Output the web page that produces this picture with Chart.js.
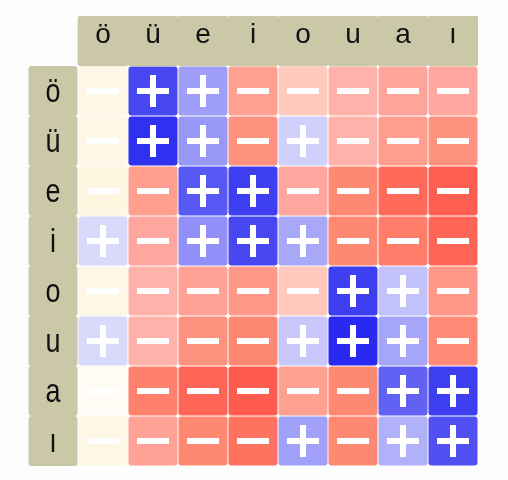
<!DOCTYPE html>
<html>
<head>
<meta charset="utf-8">
<script src="https://cdn.jsdelivr.net/npm/chart.js@4.4.0/dist/chart.umd.min.js"></script>
<style>
  html, body { margin: 0; padding: 0; background: #fdfdfd; }
</style>
</head>
<body>
<canvas id="myChart" width="508" height="480"></canvas>
<script>
// vowels, same order on both axes
const letters = ['ö', 'ü', 'e', 'i', 'o', 'u', 'a', 'ı'];

// one row per vowel, values in [-1, 1]
const rowOe = [-0.09, 0.82, 0.43, -0.43, -0.25, -0.33, -0.40, -0.38];
const rowUe = [-0.09, 0.93, 0.46, -0.53, 0.21, -0.33, -0.45, -0.53];
const rowE = [-0.10, -0.45, 0.75, 0.86, -0.38, -0.59, -0.78, -0.86];
const rowI = [0.17, -0.38, 0.50, 0.82, 0.39, -0.59, -0.66, -0.81];
const rowO = [-0.09, -0.33, -0.42, -0.48, -0.25, 0.86, 0.28, -0.48];
const rowU = [0.17, -0.33, -0.53, -0.59, 0.25, 0.96, 0.40, -0.57];
const rowA = [-0.03, -0.64, -0.81, -0.88, -0.43, -0.59, 0.71, 0.86];
const rowDotlessI = [-0.09, -0.42, -0.59, -0.73, 0.42, -0.59, 0.35, 0.78];

const rows = [rowOe, rowUe, rowE, rowI, rowO, rowU, rowA, rowDotlessI];

const headerColor = '#cbc8a8';

const blueStops = [[0, [255, 255, 255]], [1, [32, 32, 240]]];
const redStops = [
    [0, [255, 255, 255]],
    [0.1, [255, 246, 226]],
    [0.35, [255, 172, 164]],
    [0.6, [255, 134, 112]],
    [1, [255, 72, 64]]
];

function cellColor(v) {
    let stops = v >= 0 ? blueStops : redStops;
    let a = Math.min(Math.abs(v), 1);
    for (let i = 1; i < stops.length; i++) {
        if (a <= stops[i][0]) {
            let t = (a - stops[i - 1][0]) / (stops[i][0] - stops[i - 1][0]);
            let c = stops[i - 1][1].map((c0, k) => Math.round(c0 + (stops[i][1][k] - c0) * t));
            return 'rgb(' + c.join(',') + ')';
        }
    }
    return 'rgb(' + stops[stops.length - 1][1].join(',') + ')';
}

const labels = ['', ...letters];

let datasets = [{
    data: labels.map((l, j) => j === 0 ? null : [-1, 0]),
    backgroundColor: headerColor,
    barPercentage: 1
}];

rows.forEach((row, r) => {
    datasets.push({
        data: [[r, r + 1], ...row.map(() => [r + 0.01, r + 0.99])],
        backgroundColor: [headerColor, ...row.map(cellColor)]
    });
});

const signPlugin = {
    id: 'signs',
    afterDatasetsDraw(chart) {
        const ctx = chart.ctx;
        const x = chart.scales.x;
        const y = chart.scales.y;
        ctx.save();
        ctx.fillStyle = '#ffffff';
        rows.forEach((row, r) => {
            row.forEach((v, j) => {
                let cx = x.getPixelForValue(j + 1);
                let cy = y.getPixelForValue(r + 0.5);
                ctx.fillRect(cx - 16, cy - 3, 32, 6);
                if (v > 0) {
                    ctx.fillRect(cx - 3, cy - 16, 6, 32);
                }
            });
        });

        ctx.fillStyle = '#111111';
        ctx.textAlign = 'center';
        ctx.textBaseline = 'alphabetic';
        ctx.font = '28px "Liberation Sans", Arial, sans-serif';
        letters.forEach((l, j) => {
            ctx.fillText(l, x.getPixelForValue(j + 1), y.getPixelForValue(-0.5) + 2);
        });

        ctx.font = '27px "Liberation Sans", Arial, sans-serif';
        letters.forEach((l, r) => {
            ctx.save();
            ctx.translate(x.getPixelForValue(0), y.getPixelForValue(r + 0.5) + 11);
            ctx.scale(1, 1.2);
            ctx.fillText(l, 0, 0);
            ctx.restore();
        });
        ctx.restore();
    }
};

const ctx = document.getElementById('myChart').getContext('2d');

const myChart = new Chart(ctx, {
    type: 'bar',
    data: {
        labels: labels,
        datasets: datasets
    },
    options: {
        responsive: false,
        animation: false,
        layout: {
            padding: { left: 28, right: 30, top: 16, bottom: 14 }
        },
        plugins: {
            legend: { display: false },
            tooltip: { enabled: false }
        },
        datasets: {
            bar: {
                grouped: false,
                categoryPercentage: 1,
                barPercentage: 0.98,
                borderRadius: 3,
                borderSkipped: false
            }
        },
        scales: {
            x: { display: false },
            y: { display: false, min: -1, max: 8, reverse: true }
        }
    },
    plugins: [signPlugin]
});
</script>
</body>
</html>
